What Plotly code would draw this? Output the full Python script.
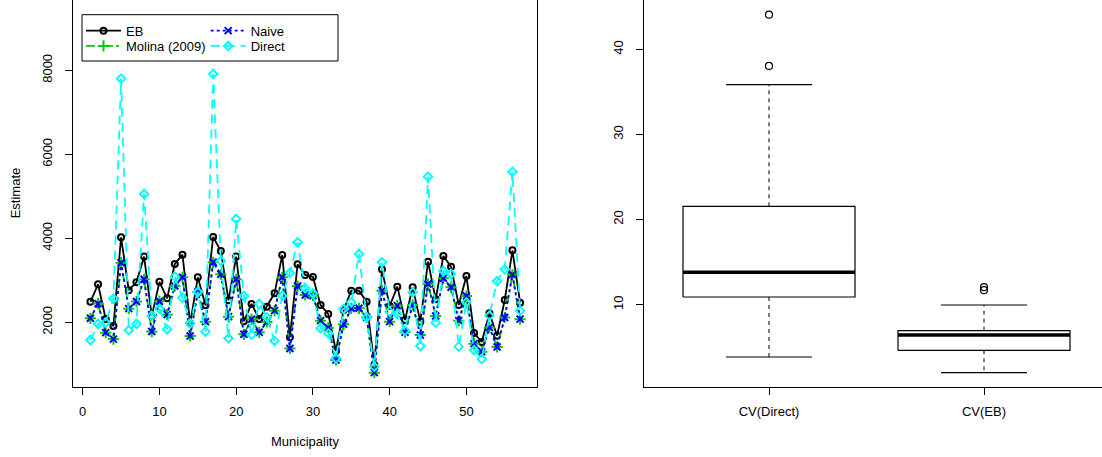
import plotly.graph_objects as go

W, H = 1102, 457

# ---------------- data: left panel ----------------
municipality = list(range(1, 58))
eb = [2487, 2905, 2078, 1912, 4024, 2765, 2952, 3564, 2150, 2963,
      2571, 3389, 3611, 1976, 3071, 2405, 4032, 3698, 2524, 3564,
      2024, 2437, 2079, 2373, 2690, 3603, 1643, 3381, 3127, 3079,
      2413, 2198, 1317, 2294, 2754, 2754, 2492, 984, 3262, 2389,
      2849, 2056, 2833, 2016, 3444, 2548, 3579, 3325, 2413, 3103,
      1745, 1532, 2214, 1683, 2531, 3713, 2467]
molina = [2095, 2445, 1754, 1600, 3420, 2325, 2495, 3024, 1780, 2503,
          2183, 2865, 3071, 1675, 2722, 2016, 3429, 3143, 2135, 3024,
          1714, 2071, 1762, 2008, 2278, 3071, 1377, 2865, 2651, 2635,
          2040, 1873, 1103, 1952, 2333, 2333, 2119, 802, 2754, 2016,
          2397, 1762, 2413, 1698, 2913, 2151, 3048, 2833, 2040, 2627,
          1488, 1301, 1877, 1413, 2115, 3138, 2075]
naive = [2095, 2445, 1754, 1600, 3420, 2325, 2495, 3024, 1780, 2503,
         2183, 2865, 3071, 1675, 2722, 2016, 3429, 3143, 2135, 3024,
         1714, 2071, 1762, 2008, 2278, 3071, 1377, 2865, 2651, 2635,
         2040, 1873, 1103, 1952, 2333, 2333, 2119, 802, 2754, 2016,
         2397, 1762, 2413, 1698, 2913, 2151, 3048, 2833, 2040, 2627,
         1488, 1301, 1877, 1413, 2115, 3138, 2075]
direct = [1579, 1960, 1992, 2566, 7802, 1813, 1965, 5056, 2159, 2325,
          1833, 3087, 2587, 1976, 2722, 1778, 7913, 3460, 1619, 4460,
          2627, 1706, 2437, 2119, 1560, 2630, 3180, 3905, 2810, 2690,
          1857, 1738, 1143, 2317, 2476, 3627, 2119, 944, 3429, 2254,
          2198, 1802, 2714, 1436, 5468, 1992, 3222, 3151, 1421, 2476,
          1340, 1126, 2158, 2983, 3262, 5583, 2273]
x_ticks = [0, 10, 20, 30, 40, 50]
y_ticks = [2000, 4000, 6000, 8000]

# ---------------- data: right panel (boxplot statistics) ----------------
cv_labels = ["CV(Direct)", "CV(EB)"]
cv_pos = [1, 2]
cv_low = [3.85, 2.01]
cv_q1 = [10.9, 4.64]
cv_med = [13.8, 6.44]
cv_q3 = [21.56, 6.95]
cv_high = [35.85, 9.96]
cv_outliers = [[44.08, 38.05], [12.05, 11.7]]
cv_ticks = [10, 20, 30, 40]

FONT = "Liberation Sans, Arial, Helvetica, sans-serif"
fig = go.Figure()

# ---------------- left panel series ----------------
series = [
    dict(name="EB", y=eb, color="black", dash="solid", symbol="circle-open", size=6, legend="legend"),
    dict(name="Molina (2009)", y=molina, color="#00CD00", dash="dashdot", symbol="cross-thin-open", size=8, legend="legend2"),
    dict(name="Naive", y=naive, color="#0000FF", dash="dot", symbol="x-thin-open", size=7, legend="legend3"),
    dict(name="Direct", y=direct, color="#00FFFF", dash="9px,6px", symbol="diamond-open", size=6.5, legend="legend4"),
]
for s in series:
    fig.add_trace(go.Scatter(
        x=municipality, y=s["y"], name=s["name"], mode="lines+markers",
        line=dict(color=s["color"], width=1.8, dash=s["dash"]),
        marker=dict(symbol=s["symbol"], size=s["size"], color=s["color"],
                    line=dict(width=2, color=s["color"])),
        xaxis="x", yaxis="y", legend=s["legend"], hoverinfo="skip"))

# ---------------- right panel boxplot ----------------
bw = 0.4   # half box width
cw = 0.2   # half cap width
for i, p in enumerate(cv_pos):
    fig.add_trace(go.Scatter(
        x=[p - bw, p + bw, p + bw, p - bw, p - bw],
        y=[cv_q1[i], cv_q1[i], cv_q3[i], cv_q3[i], cv_q1[i]],
        mode="lines", line=dict(color="black", width=1.2),
        xaxis="x2", yaxis="y2", showlegend=False, hoverinfo="skip"))
    fig.add_trace(go.Scatter(
        x=[p, p, None, p, p],
        y=[cv_q3[i], cv_high[i], None, cv_q1[i], cv_low[i]],
        mode="lines", line=dict(color="black", width=1, dash="4px,4px"),
        xaxis="x2", yaxis="y2", showlegend=False, hoverinfo="skip"))
    fig.add_trace(go.Scatter(
        x=[p - cw, p + cw, None, p - cw, p + cw],
        y=[cv_high[i], cv_high[i], None, cv_low[i], cv_low[i]],
        mode="lines", line=dict(color="black", width=1.2),
        xaxis="x2", yaxis="y2", showlegend=False, hoverinfo="skip"))
    fig.add_trace(go.Scatter(
        x=[p - bw, p + bw], y=[cv_med[i], cv_med[i]],
        mode="lines", line=dict(color="black", width=3.5),
        xaxis="x2", yaxis="y2", showlegend=False, hoverinfo="skip"))
    fig.add_trace(go.Scatter(
        x=[p] * len(cv_outliers[i]), y=cv_outliers[i],
        mode="markers", marker=dict(symbol="circle-open", size=7, color="black",
                                    line=dict(width=1.2, color="black")),
        xaxis="x2", yaxis="y2", showlegend=False, hoverinfo="skip"))

# ---------------- layout ----------------
L_x0, L_x1 = 73.2 / W, 537.3 / W
R_x0 = 644.3 / W
y_bot = (H - 386.7) / H

axis_common = dict(showgrid=False, zeroline=False, showline=True, linecolor="black",
                   linewidth=1, ticks="outside", ticklen=7, tickcolor="black", tickwidth=1,
                   tickfont=dict(family=FONT, size=13, color="black"))

legend_common = dict(bgcolor="rgba(0,0,0,0)", borderwidth=0, xanchor="left", yanchor="middle",
                     font=dict(family=FONT, size=13, color="black"), itemwidth=35,
                     itemclick=False, itemdoubleclick=False)

fig.update_layout(
    width=W, height=H, margin=dict(l=0, r=0, t=0, b=0),
    paper_bgcolor="white", plot_bgcolor="white",
    font=dict(family=FONT, size=13, color="black"),
    xaxis=dict(domain=[L_x0, L_x1], range=[-1.24, 59.24], tickvals=x_ticks,
               mirror=True, anchor="y", ticklabelstandoff=6, **axis_common),
    yaxis=dict(domain=[y_bot, 1.0], range=[467, 9674], tickvals=y_ticks, tickangle=-90,
               mirror=True, anchor="x", ticklabelstandoff=8, **axis_common),
    xaxis2=dict(domain=[R_x0, 1.0], range=[0.42, 0.42 + (W - 644.3) / 215.0],
                tickvals=cv_pos, ticktext=cv_labels, mirror=True, anchor="y2",
                ticklabelstandoff=6, **axis_common),
    yaxis2=dict(domain=[y_bot, 1.0], range=[0.36, 45.8], tickvals=cv_ticks, tickangle=-90,
                mirror=False, anchor="x2", ticklabelstandoff=8, **axis_common),
    legend=dict(x=81 / W, y=1 - 30.7 / H, **legend_common),
    legend2=dict(x=81 / W, y=1 - 46 / H, **legend_common),
    legend3=dict(x=205.7 / W, y=1 - 30.7 / H, **legend_common),
    legend4=dict(x=205.7 / W, y=1 - 46 / H, **legend_common),
    shapes=[dict(type="rect", xref="paper", yref="paper",
                 x0=82 / W, x1=338 / W, y0=1 - 61 / H, y1=1 - 14.7 / H,
                 line=dict(color="black", width=1), fillcolor="rgba(0,0,0,0)")],
    annotations=[
        dict(text="Municipality", xref="paper", yref="paper", x=(L_x0 + L_x1) / 2,
             y=1 - 441.7 / H, showarrow=False, xanchor="center", yanchor="middle",
             font=dict(family=FONT, size=13, color="black")),
        dict(text="Estimate", xref="paper", yref="paper", x=15 / W,
             y=(1 + y_bot) / 2, showarrow=False, xanchor="center", yanchor="middle",
             textangle=-90, font=dict(family=FONT, size=13, color="black")),
    ],
)

fig.write_html("out.html", config={"displayModeBar": False},
               post_script="document.body.style.margin='0px';")
